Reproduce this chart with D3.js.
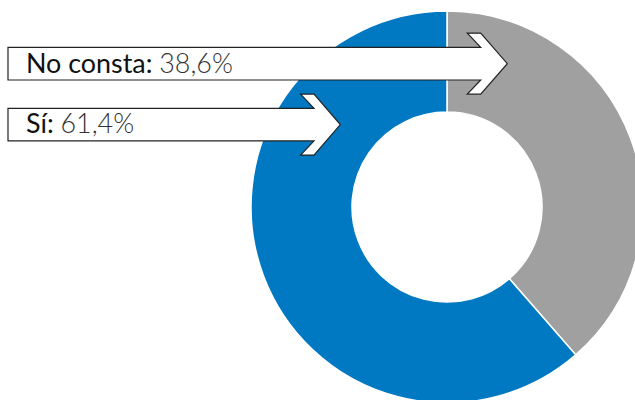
<!DOCTYPE html>
<html><head><meta charset="utf-8">
<script src="https://cdn.jsdelivr.net/npm/d3@7"></script>
<style>html,body{margin:0;padding:0;background:#fff;overflow:hidden}</style>
</head><body>
<svg id="chart" width="635" height="400"></svg>
<script>
const categories = ["No consta", "Sí"];
const values = [38.6, 61.4];
const valueLabels = ["38,6%", "61,4%"];
const colors = ["#a0a0a0", "#0079c2"];

const svg = d3.select("#chart");
const cx = 447, cy = 207, outerR = 196, innerR = 95;

const pie = d3.pie().sort(null).value(d => d.v).startAngle(0).endAngle(2 * Math.PI);
const arcs = pie(categories.map((c, i) => ({c, v: values[i], color: colors[i]})));
const arc = d3.arc().innerRadius(innerR).outerRadius(outerR);

const g = svg.append("g").attr("transform", `translate(${cx},${cy})`);
g.selectAll("path").data(arcs).join("path")
  .attr("d", arc)
  .attr("fill", d => d.data.color)
  .attr("stroke", "#fff")
  .attr("stroke-width", 1.5);

// arrow callouts
const arrows = [
  {cat: 0, y: 63.7, notchX: 480.7, tipX: 507.3, textBase: 73.3},
  {cat: 1, y: 124.6, notchX: 314, tipX: 340.3, textBase: 133.3}
];
const bodyH = 16.3, headH = 30.5, backW = 13.4, leftX = 8;

const texts = [];
arrows.forEach(a => {
  const pts = [
    [leftX, a.y - bodyH],
    [a.notchX, a.y - bodyH],
    [a.notchX - backW, a.y - headH],
    [a.notchX, a.y - headH],
    [a.tipX, a.y],
    [a.notchX, a.y + headH],
    [a.notchX - backW, a.y + headH],
    [a.notchX, a.y + bodyH],
    [leftX, a.y + bodyH]
  ];
  svg.append("polygon")
    .attr("points", pts.map(p => p.join(",")).join(" "))
    .attr("fill", "#fff")
    .attr("stroke", "#222")
    .attr("stroke-width", 1.2)
    .attr("stroke-linejoin", "miter");
  const t = svg.append("text")
    .attr("x", 26)
    .attr("y", a.textBase)
    .attr("font-family", "Lato, 'Open Sans', sans-serif")
    .attr("font-size", 24)
    .attr("fill", "#111");
  t.append("tspan").attr("font-weight", 400).text(categories[a.cat] + ": ");
  t.append("tspan").attr("font-weight", 300).attr("fill", "#333").text(valueLabels[a.cat]);
  texts.push(t);
});
// fit font size so first label spans the same width as the reference
const w = texts[0].node().getComputedTextLength();
const fs = Math.min(28, 24 * 207 / w);
texts.forEach(t => t.attr("font-size", fs));
</script>
</body></html>
